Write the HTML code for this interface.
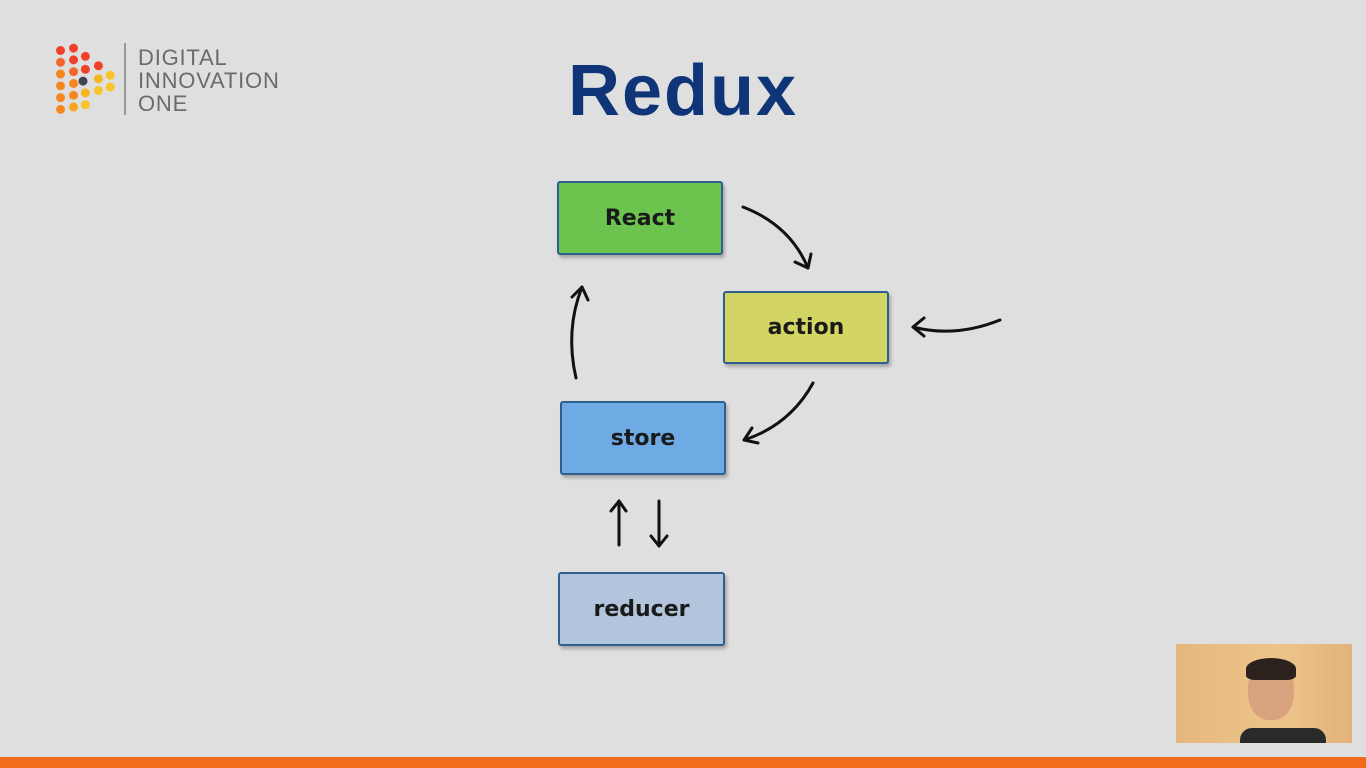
<!DOCTYPE html>
<html><head><meta charset="utf-8"><style>
html,body{margin:0;padding:0}
body{width:1366px;height:768px;background:#dfdfdf;position:relative;overflow:hidden;font-family:"Liberation Sans",sans-serif}
.box{position:absolute;border:2px solid #2e5f8e;border-radius:3px;box-shadow:2px 3px 3px rgba(0,0,0,0.25);display:flex;align-items:center;justify-content:center;font-family:"Comic Sans MS","DejaVu Sans",sans-serif;font-weight:bold;font-size:22px;color:#1a1a1a;box-sizing:border-box}
.t{position:absolute}
</style></head><body>
<svg class="t" style="left:52px;top:42px" width="70" height="75" viewBox="0 0 65 70" preserveAspectRatio="none">
<g transform="translate(-2,-2) scale(1.1)">
<circle cx="9" cy="9" r="3.8" fill="#f0402a"/><circle cx="20" cy="7" r="3.8" fill="#f0402a"/>
<circle cx="9" cy="19" r="3.8" fill="#f5662a"/><circle cx="20" cy="17" r="3.8" fill="#f0402a"/><circle cx="30" cy="14" r="3.8" fill="#f0402a"/>
<circle cx="9" cy="29" r="3.8" fill="#f7861f"/><circle cx="20" cy="27" r="3.8" fill="#f5662a"/><circle cx="30" cy="25" r="3.8" fill="#f0402a"/><circle cx="41" cy="22" r="3.8" fill="#f0402a"/>
<circle cx="9" cy="39" r="3.8" fill="#f7861f"/><circle cx="20" cy="37" r="3.8" fill="#f7861f"/><circle cx="28" cy="35" r="3.8" fill="#3d4550"/><circle cx="41" cy="33" r="3.8" fill="#f7b51f"/><circle cx="51" cy="30" r="3.8" fill="#f7c52a"/>
<circle cx="9" cy="49" r="3.8" fill="#f7861f"/><circle cx="20" cy="47" r="3.8" fill="#f7861f"/><circle cx="30" cy="45" r="3.8" fill="#f7b51f"/><circle cx="41" cy="43" r="3.8" fill="#f7c52a"/><circle cx="51" cy="40" r="3.8" fill="#f7c52a"/>
<circle cx="9" cy="59" r="3.8" fill="#f7861f"/><circle cx="20" cy="57" r="3.8" fill="#f7a51f"/><circle cx="30" cy="55" r="3.8" fill="#f7c52a"/>
</g></svg>
<div class="t" style="left:124px;top:43px;width:2px;height:72px;background:#999"></div>
<div class="t" style="left:138px;top:46px;font-size:22px;line-height:23px;color:#6b6b6b;letter-spacing:0.8px">DIGITAL<br>INNOVATION<br>ONE</div>
<div class="t" style="left:568px;top:50px;font-size:72px;font-weight:bold;color:#0f3477;letter-spacing:2px">Redux</div>

<div class="box" style="left:557px;top:181px;width:166px;height:74px;background:#6cc44f">React</div>
<div class="box" style="left:723px;top:291px;width:166px;height:73px;background:#d2d564">action</div>
<div class="box" style="left:560px;top:401px;width:166px;height:74px;background:#6eaae3">store</div>
<div class="box" style="left:558px;top:572px;width:167px;height:74px;background:#b3c5dc">reducer</div>

<svg class="t" style="left:0;top:0" width="1366" height="768" fill="none" stroke="#111" stroke-width="3" stroke-linecap="round" stroke-linejoin="round">
<path d="M743 207 Q790 225 808 268"/><path d="M795 262 L808 268 L811 254"/>
<path d="M1000 320 Q955 338 913 327"/><path d="M924 318 L913 327 L924 336"/>
<path d="M813 383 Q790 425 744 440"/><path d="M752 428 L744 440 L758 443"/>
<path d="M576 378 Q565 330 582 287"/><path d="M572 297 L582 287 L588 300"/>
<path d="M619 545 L619 501"/><path d="M611 511 L619 501 L626 511"/>
<path d="M659 501 L659 546"/><path d="M651 536 L659 546 L667 536"/>
</svg>

<div class="t" style="left:1176px;top:644px;width:176px;height:99px;background:linear-gradient(90deg,#e6b77c,#ecc48b 60%,#e2b27a)"></div>
<div class="t" style="left:1248px;top:662px;width:46px;height:58px;border-radius:45%;background:#d9a27f"></div>
<div class="t" style="left:1246px;top:658px;width:50px;height:22px;border-radius:50% 50% 20% 20%;background:#2c221d"></div>
<div class="t" style="left:1240px;top:728px;width:86px;height:15px;border-radius:12px 12px 0 0;background:#2a2a2a"></div>
<div class="t" style="left:0;top:757px;width:1366px;height:11px;background:#f26b1d"></div>
</body></html>
